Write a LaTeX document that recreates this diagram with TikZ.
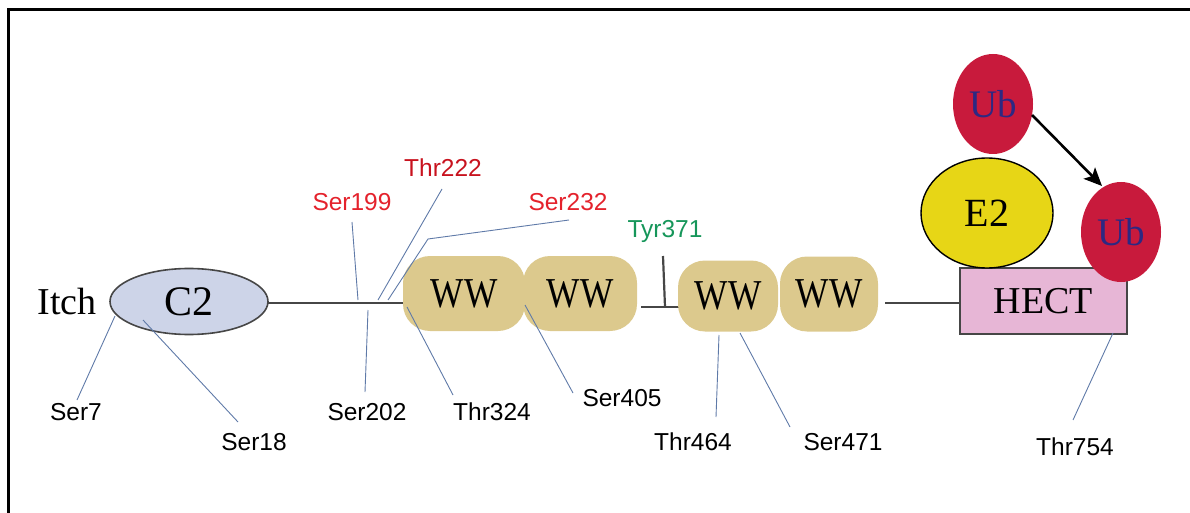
\documentclass[tikz,border=0pt]{standalone}
\usepackage{fontspec}
\setmainfont{Liberation Serif}
\newfontfamily\labfont{Liberation Sans}
\usetikzlibrary{shapes.geometric,arrows.meta}
\definecolor{c2fill}{RGB}{205,212,232}
\definecolor{wwfill}{RGB}{220,201,141}
\definecolor{hectfill}{RGB}{231,182,214}
\definecolor{e2fill}{RGB}{231,214,22}
\definecolor{ubfill}{RGB}{200,26,60}
\definecolor{ubtext}{RGB}{45,40,130}
\definecolor{leadc}{RGB}{95,122,168}
\definecolor{bbc}{RGB}{70,70,70}
\definecolor{redA}{RGB}{228,34,44}
\definecolor{redB}{RGB}{200,18,30}
\definecolor{greenA}{RGB}{22,150,90}
\begin{document}
\begin{tikzpicture}[x=1pt,y=-1pt,
  big/.style={font=\fontsize{38}{38}\selectfont},
  wwfont/.style={font=\fontsize{38}{38}\selectfont},
  lab/.style={font=\labfont\fontsize{24.5}{24.5}\selectfont, inner sep=0pt},
  leader/.style={draw=leadc, line width=0.9pt},
  backbone/.style={draw=bbc, line width=2.2pt},
  wwbox/.style={wwfont, rectangle, rounded corners=27pt, fill=wwfill, inner sep=0pt, minimum height=75pt},
  ubnode/.style={font=\fontsize{39}{39}\selectfont, ellipse, fill=ubfill, text=ubtext, minimum width=80pt, minimum height=100pt, inner sep=0pt}
]
\useasboundingbox (0,0) rectangle (1190,513);
% frame
\draw[line width=3pt] (8.5,513) -- (8.5,9.5) -- (1190,9.5);

% backbone lines
\coordinate (bbL) at (268,303);
\coordinate (bbR) at (404,303);
\draw[backbone] (bbL) -- (bbR);
\coordinate (tL) at (641,307);
\coordinate (tR) at (679,307);
\draw[backbone] (tL) -- (tR);
\coordinate (tTop) at (663,256);
\coordinate (tBot) at (665,307);
\draw[backbone] (tTop) -- (tBot);
\coordinate (hL) at (885,303);
\coordinate (hR) at (960,303);
\draw[backbone] (hL) -- (hR);

% domains
\node[big] (itch) at (67,301) {Itch};
\node[font=\fontsize{42}{42}\selectfont, ellipse, draw=bbc, line width=1.6pt, fill=c2fill, minimum width=158pt, minimum height=66pt, inner sep=0pt] (c2) at (189,301.5) {C2};
\node[wwbox, minimum width=122pt] (ww1) at (464,293.5) {\scalebox{0.93}[1.12]{WW}};
\node[wwbox, minimum width=114pt] (ww2) at (580,293.5) {\scalebox{0.93}[1.12]{WW}};
\node[wwbox, minimum width=100pt, minimum height=71pt] (ww3) at (728,296) {\scalebox{0.93}[1.12]{WW}};
\node[wwbox, minimum width=98pt] (ww4) at (829,294) {\scalebox{0.93}[1.12]{WW}};
\node[big, rectangle, draw=bbc, line width=1.6pt, fill=hectfill, minimum width=167pt, minimum height=66pt, inner sep=0pt] (hect) at (1043.5,301) {HECT};
\node[font=\fontsize{40}{40}\selectfont, ellipse, draw=black, line width=1.4pt, fill=e2fill, minimum width=132pt, minimum height=110pt, inner sep=0pt] (e2) at (987,213) {E2};
\node[ubnode] (ub1) at (993,104) {Ub};
\node[ubnode] (ub2) at (1121,232) {Ub};
\coordinate (aS) at (1032,115);
\coordinate (aE) at (1102,186);
\draw[line width=2.6pt, -{Stealth[length=18pt,width=16pt,inset=4pt]}] (aS) -- (aE);

% labels
\node[lab] (ser7) at (76,412) {Ser7};
\node[lab] (ser18) at (254,442) {Ser18};
\node[lab] (ser202) at (367,412) {Ser202};
\node[lab] (thr324) at (492,412) {Thr324};
\node[lab] (ser405) at (622,398) {Ser405};
\node[lab, text=redA] (ser199) at (352,202) {Ser199};
\node[lab, text=redB] (thr222) at (443,168) {Thr222};
\node[lab, text=redA] (ser232) at (568,202) {Ser232};
\node[lab, text=greenA] (tyr371) at (665,231) {Tyr371};
\node[lab] (thr464) at (693,442) {Thr464};
\node[lab] (ser471) at (843,442) {Ser471};
\node[lab] (thr754) at (1075,447) {Thr754};

% leader lines
\coordinate (p7) at (115,316);   \coordinate (q7) at (77,400);
\coordinate (p18) at (143,320);  \coordinate (q18) at (238,422);
\coordinate (p202) at (368,310); \coordinate (q202) at (365,392);
\coordinate (p324) at (407,307); \coordinate (q324) at (453,395);
\coordinate (p405) at (525,305); \coordinate (q405) at (573,393);
\coordinate (p199) at (358,300); \coordinate (q199) at (352,222);
\coordinate (p222) at (378,300); \coordinate (q222) at (442,189);
\coordinate (p232) at (388,300); \coordinate (m232) at (428,239); \coordinate (q232) at (569,220);
\coordinate (p464) at (719,335); \coordinate (q464) at (716,417);
\coordinate (p471) at (740,333); \coordinate (q471) at (790,427);
\coordinate (p754) at (1113,333); \coordinate (q754) at (1073,420);
\draw[leader] (p7) -- (q7);
\draw[leader] (p18) -- (q18);
\draw[leader] (p202) -- (q202);
\draw[leader] (p324) -- (q324);
\draw[leader] (p405) -- (q405);
\draw[leader] (p199) -- (q199);
\draw[leader] (p222) -- (q222);
\draw[leader] (p232) -- (m232) -- (q232);
\draw[leader] (p464) -- (q464);
\draw[leader] (p471) -- (q471);
\draw[leader] (p754) -- (q754);
\end{tikzpicture}
\end{document}
